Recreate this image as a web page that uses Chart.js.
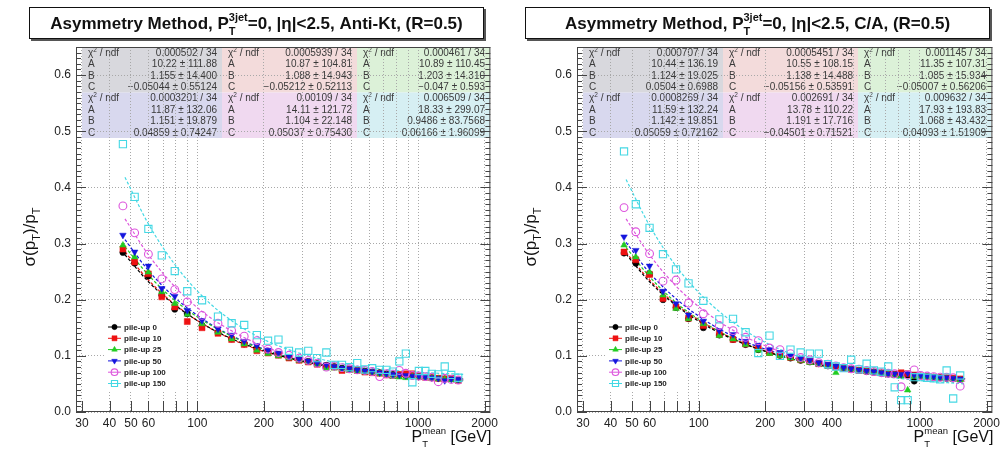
<!DOCTYPE html>
<html>
<head>
<meta charset="utf-8">
<script src="https://cdn.jsdelivr.net/npm/chart.js@4.4.1/dist/chart.umd.min.js"></script>
<style>
    html, body { margin: 0; padding: 0; background: #fff; }
    #quadro { position: relative; width: 1005px; height: 452px; overflow: hidden; }
    canvas { position: absolute; top: 0; }
</style>
</head>
<body>
<div id="quadro">
    <canvas id="graficoAntiKt" width="502" height="452" style="left:0"></canvas>
    <canvas id="graficoCA" width="503" height="452" style="left:501px"></canvas>
</div>
<script>
// Dados (pT medio em GeV, resolucao sigma(pT)/pT)
const ptMedio = [46, 52, 60, 69, 79, 90, 105, 124, 143, 163, 186, 209, 233, 260, 289, 318, 349, 384, 417, 452,
    489, 530, 574, 619, 670, 719, 769, 822, 880, 942, 1008, 1078, 1154, 1234, 1320, 1413, 1520];

const rotulos = ['pile-up 0', 'pile-up 10', 'pile-up 25', 'pile-up 50', 'pile-up 100', 'pile-up 150'];

const ticksX = [30, 40, 50, 60, 70, 80, 90, 100, 200, 300, 400, 500, 600, 700, 800, 900, 1000, 2000];
const rotulosX = [30, 40, 50, 60, 100, 200, 300, 400, 1000, 2000];
const ticksY = [0, 0.1, 0.2, 0.3, 0.4, 0.5, 0.6];

// Anti-Kt
const antiKt0 = [0.284, 0.265, 0.242, 0.208, 0.183, 0.175, 0.154, 0.142, 0.130, 0.121, 0.112, 0.106, 0.102, 0.097, 0.093, 0.090, 0.086, 0.083, 0.081, 0.078,
    0.076, 0.075, 0.073, 0.071, 0.070, 0.068, 0.067, 0.066, 0.065, 0.064, 0.063, 0.062, 0.061, 0.060, 0.059, 0.059, 0.057];
const antiKt10 = [0.290, 0.267, 0.246, 0.205, 0.187, 0.161, 0.150, 0.140, 0.129, 0.120, 0.109, 0.105, 0.101, 0.096, 0.092, 0.089, 0.085, 0.082, 0.080, 0.074,
    0.076, 0.074, 0.071, 0.070, 0.069, 0.066, 0.065, 0.067, 0.068, 0.068, 0.063, 0.062, 0.061, 0.060, 0.059, 0.060, 0.056];
const antiKt25 = [0.297, 0.276, 0.249, 0.214, 0.193, 0.174, 0.157, 0.142, 0.130, 0.121, 0.110, 0.104, 0.100, 0.096, 0.092, 0.089, 0.085, 0.078, 0.078, 0.076,
    0.074, 0.073, 0.071, 0.070, 0.068, 0.066, 0.063, 0.062, 0.061, 0.063, 0.062, 0.061, 0.060, 0.059, 0.058, 0.057, 0.056];
const antiKt50 = [0.315, 0.285, 0.260, 0.220, 0.206, 0.181, 0.163, 0.148, 0.137, 0.126, 0.118, 0.110, 0.105, 0.099, 0.094, 0.091, 0.087, 0.084, 0.081, 0.078,
    0.077, 0.075, 0.073, 0.072, 0.070, 0.068, 0.067, 0.066, 0.065, 0.064, 0.064, 0.062, 0.061, 0.060, 0.056, 0.059, 0.058];
const antiKt100 = [0.367, 0.319, 0.281, 0.237, 0.218, 0.196, 0.172, 0.158, 0.145, 0.135, 0.127, 0.112, 0.106, 0.101, 0.096, 0.092, 0.087, 0.080, 0.082, 0.079,
    0.077, 0.075, 0.074, 0.072, 0.063, 0.068, 0.067, 0.074, 0.069, 0.065, 0.064, 0.063, 0.062, 0.054, 0.060, 0.058, 0.057];
const antiKt150 = [0.477, 0.383, 0.326, 0.279, 0.251, 0.215, 0.199, 0.170, 0.158, 0.155, 0.137, 0.127, 0.129, 0.109, 0.106, 0.109, 0.096, 0.106, 0.084, 0.084,
    0.080, 0.087, 0.076, 0.078, 0.075, 0.075, 0.072, 0.090, 0.104, 0.053, 0.073, 0.073, 0.068, 0.067, 0.081, 0.066, 0.061];

// C/A
const ca0 = [0.283, 0.265, 0.246, 0.200, 0.186, 0.166, 0.150, 0.137, 0.129, 0.120, 0.111, 0.106, 0.101, 0.096, 0.092, 0.089, 0.086, 0.082, 0.080, 0.078,
    0.076, 0.074, 0.072, 0.071, 0.069, 0.068, 0.067, 0.066, 0.066, 0.055, 0.064, 0.063, 0.062, 0.061, 0.060, 0.059, 0.058];
const ca10 = [0.285, 0.271, 0.245, 0.202, 0.187, 0.167, 0.154, 0.138, 0.129, 0.121, 0.113, 0.106, 0.102, 0.097, 0.093, 0.090, 0.086, 0.083, 0.080, 0.078,
    0.076, 0.074, 0.073, 0.071, 0.070, 0.068, 0.067, 0.070, 0.068, 0.066, 0.064, 0.063, 0.062, 0.061, 0.061, 0.060, 0.059];
const ca25 = [0.297, 0.276, 0.249, 0.208, 0.184, 0.166, 0.157, 0.136, 0.130, 0.120, 0.110, 0.104, 0.100, 0.096, 0.092, 0.088, 0.085, 0.081, 0.070, 0.077,
    0.076, 0.074, 0.072, 0.071, 0.069, 0.067, 0.066, 0.064, 0.039, 0.063, 0.063, 0.062, 0.061, 0.060, 0.059, 0.058, 0.057];
const ca50 = [0.312, 0.288, 0.260, 0.215, 0.193, 0.173, 0.162, 0.145, 0.138, 0.126, 0.119, 0.111, 0.106, 0.100, 0.096, 0.092, 0.088, 0.085, 0.082, 0.079,
    0.077, 0.075, 0.073, 0.072, 0.070, 0.068, 0.068, 0.067, 0.069, 0.066, 0.065, 0.064, 0.063, 0.062, 0.061, 0.060, 0.059];
const ca100 = [0.364, 0.321, 0.282, 0.233, 0.235, 0.194, 0.175, 0.154, 0.145, 0.133, 0.127, 0.114, 0.111, 0.104, 0.097, 0.093, 0.088, 0.085, 0.082, 0.079,
    0.077, 0.076, 0.074, 0.072, 0.070, 0.069, 0.068, 0.045, 0.066, 0.075, 0.065, 0.064, 0.063, 0.062, 0.062, 0.061, 0.046];
const ca150 = [0.464, 0.370, 0.328, 0.281, 0.254, 0.229, 0.198, 0.165, 0.166, 0.142, 0.105, 0.136, 0.100, 0.111, 0.106, 0.104, 0.104, 0.085, 0.081, 0.078,
    0.093, 0.076, 0.086, 0.074, 0.072, 0.081, 0.044, 0.021, 0.021, 0.062, 0.062, 0.061, 0.060, 0.058, 0.074, 0.024, 0.065];

const ptAjuste = [47, 60, 80, 110, 150, 200, 300, 450, 700, 1000, 1600];
const ajusteAntiKt0 = [0.280, 0.232, 0.189, 0.153, 0.127, 0.109, 0.090, 0.078, 0.068, 0.063, 0.059];
const ajusteAntiKt10 = [0.285, 0.235, 0.190, 0.153, 0.126, 0.108, 0.089, 0.077, 0.068, 0.063, 0.059];
const ajusteAntiKt25 = [0.294, 0.244, 0.197, 0.159, 0.131, 0.111, 0.091, 0.078, 0.067, 0.061, 0.056];
const ajusteAntiKt50 = [0.307, 0.252, 0.202, 0.161, 0.132, 0.112, 0.091, 0.078, 0.067, 0.062, 0.057];
const ajusteAntiKt100 = [0.344, 0.280, 0.221, 0.173, 0.140, 0.117, 0.094, 0.079, 0.068, 0.063, 0.058];
const ajusteAntiKt150 = [0.418, 0.335, 0.260, 0.199, 0.157, 0.129, 0.103, 0.086, 0.076, 0.071, 0.067];
const ajusteCA0 = [0.281, 0.232, 0.188, 0.152, 0.126, 0.108, 0.089, 0.077, 0.068, 0.063, 0.058];
const ajusteCA10 = [0.284, 0.235, 0.190, 0.154, 0.127, 0.109, 0.091, 0.078, 0.069, 0.064, 0.059];
const ajusteCA25 = [0.293, 0.241, 0.193, 0.155, 0.127, 0.108, 0.089, 0.076, 0.067, 0.062, 0.057];
const ajusteCA50 = [0.302, 0.248, 0.200, 0.160, 0.131, 0.112, 0.092, 0.078, 0.069, 0.063, 0.059];
const ajusteCA100 = [0.344, 0.280, 0.222, 0.175, 0.141, 0.118, 0.094, 0.078, 0.067, 0.060, 0.055];
const ajusteCA150 = [0.414, 0.332, 0.257, 0.197, 0.154, 0.124, 0.095, 0.076, 0.063, 0.056, 0.050];

// Caixas de estatistica (chi2/ndf, A, B, C)
const estatAntiKt = [
    ['0.000502 / 34', '10.22 ± 111.88', '1.155 ± 14.400', '−0.05044 ± 0.55124'],
    ['0.0005939 / 34', '10.87 ± 104.81', '1.088 ± 14.943', '−0.05212 ± 0.52113'],
    ['0.000461 / 34', '10.89 ± 110.45', '1.203 ± 14.310', '−0.047 ± 0.593'],
    ['0.0003201 / 34', '11.87 ± 132.06', '1.151 ± 19.879', '0.04859 ± 0.74247'],
    ['0.00109 / 34', '14.11 ± 121.72', '1.104 ± 22.148', '0.05037 ± 0.75430'],
    ['0.006509 / 34', '18.33 ± 299.07', '0.9486 ± 83.7568', '0.06166 ± 1.96099']
];
const estatCA = [
    ['0.000707 / 34', '10.44 ± 136.19', '1.124 ± 19.025', '0.0504 ± 0.6988'],
    ['0.0005451 / 34', '10.55 ± 108.15', '1.138 ± 14.488', '−0.05156 ± 0.53591'],
    ['0.001145 / 34', '11.35 ± 107.31', '1.085 ± 15.934', '−0.05007 ± 0.56206'],
    ['0.0008269 / 34', '11.59 ± 132.24', '1.142 ± 19.851', '0.05059 ± 0.72162'],
    ['0.002691 / 34', '13.78 ± 110.22', '1.191 ± 17.716', '−0.04501 ± 0.71521'],
    ['0.009632 / 34', '17.93 ± 193.83', '1.068 ± 43.432', '0.04093 ± 1.51909']
];

const FONTE = '"Liberation Sans", Arial, Helvetica, sans-serif';

// Estilo de cada serie (marcadores do ROOT)
const estilos = [
    { cor: '#000000', ponto: 'circle', raio: 3.1, cheio: true, rot: 0, caixa: '#d8d8dd' },
    { cor: '#ee1111', ponto: 'rect', raio: 4.2, cheio: true, rot: 0, caixa: '#f3dbdb' },
    { cor: '#22cc22', ponto: 'triangle', raio: 3.8, cheio: true, rot: 0, caixa: '#dcf1d8' },
    { cor: '#1515dd', ponto: 'triangle', raio: 3.8, cheio: true, rot: 180, caixa: '#d8d8ee' },
    { cor: '#dd55dd', ponto: 'circle', raio: 3.9, cheio: false, rot: 0, caixa: '#f0d9f0' },
    { cor: '#44d8e4', ponto: 'rect', raio: 5.1, cheio: false, rot: 0, caixa: '#d6eff3' }
];

// Texto com sub/sobrescritos: partes com tamanho, deslocamento e "pilha" (mesma posicao da anterior)
function desenharRico(ctx, partes, x, y, peso, alinhar) {
    let cursor = 0, iniAnt = 0;
    const pos = partes.map(p => {
        ctx.font = `${peso} ${p.tam}px ${FONTE}`;
        const w = ctx.measureText(p.t).width;
        const ini = p.pilha ? iniAnt : cursor;
        cursor = p.pilha ? Math.max(cursor, ini + w) : ini + w;
        iniAnt = ini;
        return ini;
    });
    const x0 = alinhar === 'center' ? x - cursor / 2 : (alinhar === 'right' ? x - cursor : x);
    ctx.textAlign = 'left';
    ctx.textBaseline = 'alphabetic';
    partes.forEach((p, i) => {
        ctx.font = `${peso} ${p.tam}px ${FONTE}`;
        ctx.fillText(p.t, x0 + pos[i], y + (p.dy || 0));
    });
}

function desenharMarcador(ctx, e, x, y, escala) {
    ctx.save();
    ctx.fillStyle = e.cheio ? e.cor : 'rgba(0,0,0,0)';
    ctx.strokeStyle = e.cor;
    ctx.lineWidth = e.cheio ? 0.5 : 1.1;
    Chart.helpers.drawPoint(ctx, { pointStyle: e.ponto, radius: e.raio * escala, rotation: e.rot, borderWidth: ctx.lineWidth }, x, y);
    ctx.restore();
}

function pluginDecoracao(algoritmo, estat, caixaTitulo) {
    return {
        id: 'decoracao',
        beforeDraw(chart) {
            // Caixas de estatistica dos ajustes (a grade passa por cima)
            const ctx = chart.ctx;
            const colunas = [[82, 222], [222, 357], [357, 490]];
            const linhasY = [47, 92.5, 138];
            const nomes = ['', 'A', 'B', 'C'];
            ctx.save();
            estat.forEach((valores, i) => {
                const c = i % 3, r = Math.floor(i / 3);
                const [x0, x1] = colunas[c];
                ctx.fillStyle = estilos[i].caixa;
                ctx.fillRect(x0, linhasY[r], x1 - x0, linhasY[r + 1] - linhasY[r]);
                ctx.fillStyle = '#3a3a3a';
                valores.forEach((v, k) => {
                    const yb = linhasY[r] + 8.5 + k * 11.5;
                    if (k === 0) {
                        desenharRico(ctx, [{ t: 'χ', tam: 10 }, { t: '2', tam: 6.5, dy: -4 }, { t: ' / ndf', tam: 10 }], x0 + 6, yb, 'normal', 'left');
                    } else {
                        ctx.font = `10px ${FONTE}`;
                        ctx.textAlign = 'left';
                        ctx.fillText(nomes[k], x0 + 6, yb);
                    }
                    ctx.font = `10px ${FONTE}`;
                    ctx.textAlign = 'right';
                    ctx.fillText(v, x1 - 5, yb);
                });
            });
            ctx.restore();
        },
        beforeDatasetsDraw(chart) {
            // Legenda dentro do grafico, com fundo branco
            const ctx = chart.ctx;
            ctx.save();
            ctx.fillStyle = '#ffffff';
            ctx.fillRect(104, 318, 78, 72);
            rotulos.forEach((r, i) => {
                const y = 327 + i * 11.3;
                const e = estilos[i];
                ctx.strokeStyle = e.cor;
                ctx.lineWidth = 1;
                ctx.beginPath();
                ctx.moveTo(108, y);
                ctx.lineTo(121, y);
                ctx.stroke();
                desenharMarcador(ctx, e, 114.5, y, 0.85);
                ctx.fillStyle = '#222';
                ctx.font = `bold 8px ${FONTE}`;
                ctx.textAlign = 'left';
                ctx.textBaseline = 'middle';
                ctx.fillText(r, 124, y + 0.5);
            });
            ctx.restore();
        },
        afterDatasetsDraw(chart) {
            // Moldura e marcas dos eixos (para dentro, estilo ROOT)
            const ctx = chart.ctx;
            const a = chart.chartArea;
            const sx = chart.scales.x, sy = chart.scales.y;
            ctx.save();
            ctx.strokeStyle = '#444';
            ctx.lineWidth = 1;
            ctx.strokeRect(a.left + 0.5, a.top + 0.5, a.right - a.left - 1, a.bottom - a.top - 1);
            ctx.beginPath();
            ticksX.forEach(v => {
                const px = Math.round(sx.getPixelForValue(v)) + 0.5;
                ctx.moveTo(px, a.bottom);
                ctx.lineTo(px, a.bottom - 11);
            });
            for (let k = 0; k <= 65; k++) {
                const py = Math.round(sy.getPixelForValue(k / 100)) + 0.5;
                const comp = k % 10 === 0 ? 10 : 5;
                ctx.moveTo(a.left, py);
                ctx.lineTo(a.left + comp, py);
                ctx.moveTo(a.right, py);
                ctx.lineTo(a.right - comp, py);
            }
            ctx.stroke();
            ctx.restore();
        },
        afterDraw(chart) {
            const ctx = chart.ctx;
            const a = chart.chartArea;
            ctx.save();
            // Titulo com caixa e sombra
            const [bx0, bx1] = caixaTitulo;
            ctx.fillStyle = '#555';
            ctx.fillRect(bx0 + 2, 9, bx1 - bx0, 32);
            ctx.fillStyle = '#fff';
            ctx.fillRect(bx0, 7, bx1 - bx0, 32);
            ctx.strokeStyle = '#111';
            ctx.lineWidth = 1;
            ctx.strokeRect(bx0 + 0.5, 7.5, bx1 - bx0 - 1, 31);
            ctx.fillStyle = '#111';
            desenharRico(ctx, [
                { t: 'Asymmetry Method, P', tam: 17 },
                { t: '3jet', tam: 11, dy: -8 },
                { t: 'T', tam: 11, dy: 6, pilha: true },
                { t: '=0, |η|<2.5, ' + algoritmo + ', (R=0.5)', tam: 17 }
            ], (bx0 + bx1) / 2, 29, 'bold', 'center');

            // Titulo do eixo X
            desenharRico(ctx, [
                { t: 'P', tam: 16 },
                { t: 'mean', tam: 9.5, dy: -8 },
                { t: 'T', tam: 9.5, dy: 5, pilha: true },
                { t: ' [GeV]', tam: 16 }
            ], a.right + 1, 442, 'normal', 'right');

            // Titulo do eixo Y (girado)
            ctx.translate(35, 237);
            ctx.rotate(-Math.PI / 2);
            desenharRico(ctx, [
                { t: 'σ(p', tam: 17 },
                { t: 'T', tam: 11, dy: 5 },
                { t: ')/p', tam: 17 },
                { t: 'T', tam: 11, dy: 5 }
            ], 0, 0, 'normal', 'center');
            ctx.restore();
        }
    };
}

function criarGrafico(canvasId, algoritmo, series, ajustes, estat, caixaTitulo) {
    const canvas = document.getElementById(canvasId);
    const ctx = canvas.getContext('2d');

    // Preparando os datasets: pontos + curvas de ajuste tracejadas
    const datasets = [];
    series.forEach((valores, i) => {
        const e = estilos[i];
        datasets.push({
            label: rotulos[i],
            data: ptMedio.map((x, k) => ({ x: x, y: valores[k] })),
            showLine: false,
            pointStyle: e.ponto,
            pointRadius: e.raio,
            pointRotation: e.rot,
            pointBackgroundColor: e.cheio ? e.cor : 'rgba(0,0,0,0)',
            pointBorderColor: e.cor,
            pointBorderWidth: e.cheio ? 0.5 : 1.1,
            order: 6 - i
        });
    });
    ajustes.forEach((valores, i) => {
        datasets.push({
            label: 'ajuste ' + rotulos[i],
            data: ptAjuste.map((x, k) => ({ x: x, y: valores[k] })),
            showLine: true,
            borderColor: estilos[i].cor,
            borderWidth: 1.2,
            borderDash: [3, 2],
            pointRadius: 0,
            cubicInterpolationMode: 'monotone',
            order: 20
        });
    });

    return new Chart(ctx, {
        type: 'line',
        data: { datasets: datasets },
        options: {
            responsive: false,
            devicePixelRatio: 1,
            animation: false,
            events: [],
            layout: { padding: { top: 47, right: canvas.width - 497, left: 0, bottom: 0 } },
            plugins: {
                legend: { display: false },
                tooltip: { enabled: false }
            },
            scales: {
                x: {
                    type: 'logarithmic',
                    min: 28.2,
                    max: 2125,
                    afterBuildTicks: s => { s.ticks = ticksX.map(v => ({ value: v })); },
                    afterFit: s => { s.height = 40; },
                    ticks: {
                        autoSkip: false,
                        maxRotation: 0,
                        padding: 4,
                        color: '#222',
                        font: { family: FONTE, size: 12 },
                        callback: v => rotulosX.includes(v) ? String(v) : ''
                    },
                    grid: { color: '#a8a8a8', lineWidth: 1, drawTicks: false },
                    border: { display: false, dash: [1, 2] }
                },
                y: {
                    min: 0,
                    max: 0.65,
                    afterBuildTicks: s => { s.ticks = ticksY.map(v => ({ value: v })); },
                    afterFit: s => { s.width = 76; },
                    ticks: {
                        padding: 5,
                        color: '#222',
                        font: { family: FONTE, size: 12 },
                        callback: v => v.toFixed(1)
                    },
                    grid: { color: '#a8a8a8', lineWidth: 1, drawTicks: false },
                    border: { display: false, dash: [1, 2] }
                }
            }
        },
        plugins: [pluginDecoracao(algoritmo, estat, caixaTitulo)]
    });
}

// Chamar a funcao ao carregar a pagina
document.addEventListener("DOMContentLoaded", () => {
    criarGrafico('graficoAntiKt', 'Anti-Kt',
        [antiKt0, antiKt10, antiKt25, antiKt50, antiKt100, antiKt150],
        [ajusteAntiKt0, ajusteAntiKt10, ajusteAntiKt25, ajusteAntiKt50, ajusteAntiKt100, ajusteAntiKt150],
        estatAntiKt, [29, 484]);
    criarGrafico('graficoCA', 'C/A',
        [ca0, ca10, ca25, ca50, ca100, ca150],
        [ajusteCA0, ajusteCA10, ajusteCA25, ajusteCA50, ajusteCA100, ajusteCA150],
        estatCA, [24, 489]);
});
</script>
</body>
</html>
